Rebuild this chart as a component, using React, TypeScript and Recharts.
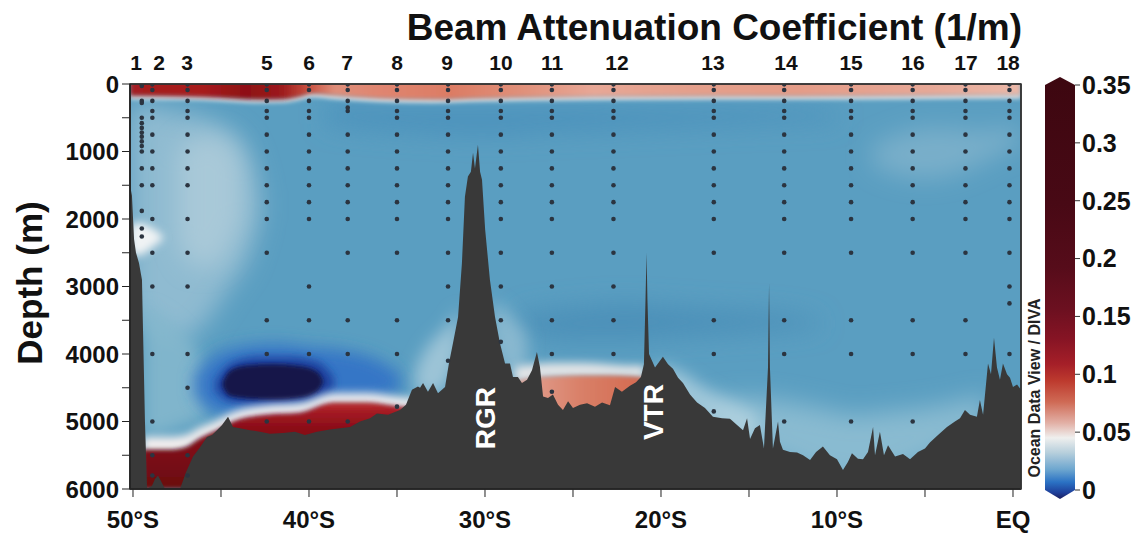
import React from "react";
import {
  ComposedChart,
  BarChart,
  Area,
  Bar,
  Scatter,
  XAxis,
  YAxis,
  ReferenceDot,
  ReferenceArea,
} from "recharts";

const FONT = '"Liberation Sans", Arial, Helvetica, sans-serif';

// axis ranges
const LAT_MIN = -50.17;
const LAT_MAX = 0.455;
const DEPTH_MAX = 6000;

const latTicks = [-50, -45, -40, -35, -30, -25, -20, -15, -10, -5, 0];
const depthTicks = [0, 500, 1000, 1500, 2000, 2500, 3000, 3500, 4000, 4500, 5000, 5500, 6000];
const colorTicks = [0, 0.05, 0.1, 0.15, 0.2, 0.25, 0.3, 0.35];

// stations: label positions on top, cast positions, sample depths
const stationNames = ["1", "2", "3", "5", "6", "7", "8", "9", "10", "11", "12", "13", "14", "15", "16", "17", "18"];
const labelLats = [-49.83, -48.52, -46.93, -42.39, -40.0, -37.84, -35.0, -32.16, -29.09, -26.19, -22.5, -17.05, -12.9, -9.2, -5.68, -2.67, -0.28];
const stationLats = [-49.5, -48.9, -46.9, -42.4, -40.0, -37.8, -35.0, -32.1, -29.1, -26.2, -22.7, -17.0, -13.0, -9.2, -5.7, -2.7, -0.2];
const stationDepths: number[][] = [
  [5, 30, 250, 280, 500, 580, 650, 720, 780, 850, 920, 1000, 1250, 1500, 1880, 2140, 2260],
  [5, 90, 250, 400, 500, 750, 1000, 1250, 1500, 2000, 2500, 3000, 4000, 5000, 5500, 5800],
  [5, 90, 250, 400, 500, 750, 1000, 1250, 1500, 2000, 2500, 3000, 4000, 4500, 5500, 5800],
  [5, 90, 250, 400, 500, 750, 1000, 1250, 1500, 1750, 2000, 2500, 3500, 4000, 5000],
  [5, 90, 250, 400, 500, 750, 1000, 1250, 1500, 1750, 2000, 3000, 3500, 4000, 5000],
  [5, 90, 250, 350, 400, 750, 1000, 1250, 1500, 1750, 2000, 2500, 3500, 4000, 5000],
  [5, 90, 250, 400, 500, 750, 1000, 1250, 1500, 1750, 2000, 2500, 3500, 4000, 4780],
  [5, 90, 250, 400, 500, 750, 1000, 1250, 1500, 1750, 2000, 2500, 3000, 3500, 4100],
  [5, 90, 250, 400, 500, 750, 1000, 1250, 1500, 1750, 2000, 2500, 3000, 3500, 3820],
  [5, 90, 250, 400, 500, 750, 1000, 1250, 1500, 1750, 2000, 2500, 3000, 3500, 4000, 4560],
  [5, 90, 250, 400, 500, 750, 1000, 1250, 1500, 1750, 2000, 2500, 3000, 3500, 4000],
  [5, 90, 250, 400, 500, 750, 1000, 1250, 1500, 1750, 2000, 2500, 3500, 4000, 4850],
  [5, 90, 250, 400, 500, 750, 1000, 1250, 1500, 1750, 2000, 2500, 3500, 4000, 5000],
  [5, 90, 250, 400, 500, 750, 1000, 1250, 1500, 1750, 2000, 2500, 3500, 4000, 5000],
  [5, 90, 250, 400, 500, 750, 1000, 1250, 1500, 1750, 2000, 2500, 3500, 4000, 5000],
  [5, 90, 250, 400, 500, 750, 1000, 1250, 1500, 1750, 2000, 2500, 3500, 4000],
  [5, 90, 250, 400, 500, 750, 1000, 1250, 1500, 1750, 2000, 2500, 3000, 3250, 4000],
];

// seafloor profile
const bathyLat = [
  -50.17, -50.06, -49.94, -49.83, -49.66, -49.49, -49.43, -49.32, -49.2, -48.92, -48.75, -48.58, -48.41, -48.18,
  -47.33, -46.99, -46.59, -46.19, -45.8, -45.51, -45.23, -44.94, -44.6, -44.32, -43.92, -43.35, -42.78, -42.22,
  -41.48, -40.8, -40.23, -39.55, -38.81, -38.24, -37.67, -37.1, -36.53, -36.14, -35.51, -34.83, -34.49, -34.15,
  -33.81, -33.69, -33.52, -33.24, -32.95, -32.67, -32.27, -32.05, -31.82, -31.53, -31.31, -31.14, -30.97, -30.8,
  -30.68, -30.57, -30.4, -30.28, -30.17, -29.99, -29.72, -29.43, -29.15, -28.86, -28.58, -28.41, -28.13, -27.9,
  -27.61, -27.33, -27.05, -26.88, -26.7, -26.42, -26.14, -25.85, -25.57, -25.28, -25.0, -24.6, -24.2, -23.75,
  -23.35, -22.9, -22.61, -22.22, -21.76, -21.42, -21.14, -20.97, -20.88, -20.82, -20.77, -20.68, -20.51, -20.34,
  -20.06, -19.89, -19.6, -19.32, -19.03, -18.75, -18.35, -17.95, -17.5, -17.05, -16.53, -16.08, -15.68, -15.34,
  -15.11, -14.94, -14.66, -14.38, -14.15, -13.92, -13.86, -13.81, -13.64, -13.35, -13.24, -13.07, -12.67, -12.27,
  -11.93, -11.53, -11.19, -10.8, -10.4, -10.0, -9.66, -9.38, -9.15, -8.81, -8.52, -8.24, -7.95, -7.84, -7.56,
  -7.33, -7.1, -6.7, -6.25, -5.85, -5.4, -5.0, -4.72, -4.26, -3.75, -3.3, -3.01, -2.73, -2.44, -2.05, -1.88,
  -1.7, -1.42, -1.25, -1.08, -0.91, -0.74, -0.57, -0.34, -0.17, 0.0, 0.23, 0.455,
];
const bathyDepth = [
  1500, 1650, 2300, 2500, 2650, 2900, 3650, 5000, 6000, 5950, 5850, 5800, 5880, 6000,
  6000, 5750, 5520, 5380, 5230, 5200, 5130, 5050, 4930, 5080, 5100, 5130, 5150, 5180,
  5170, 5150, 5200, 5150, 5120, 5100, 5080, 5000, 4950, 4880, 4900, 4830, 4750, 4530,
  4480, 4500, 4430, 4560, 4430, 4580, 4490, 4140, 3840, 3450, 2650, 1670, 1370, 1300,
  1020, 1250, 900, 1300, 1420, 2160, 2900, 3450, 3840, 4140, 4140, 4340, 4340, 4430,
  4380, 4240, 3970, 4190, 4630, 4650, 4600, 4750, 4830, 4700, 4800, 4750, 4730, 4780,
  4720, 4760, 4490, 4560, 4470, 4420, 4340, 4150, 3200, 2500, 3200, 4000, 4100, 4200,
  4100, 4040, 4150, 4220, 4350, 4430, 4600, 4720, 4800, 4930, 4950, 4960, 5050, 5130,
  4950, 5260, 5100, 5050, 5400, 4200, 2950, 4200, 5400, 5000, 5300, 5420, 5450, 5460,
  5500, 5570, 5450, 5370, 5500, 5560, 5720, 5600, 5470, 5550, 5560, 5450, 5080, 5500, 5150,
  5500, 5350, 5520, 5480, 5560, 5450, 5400, 5310, 5200, 5080, 5000, 4950, 4830, 4900, 4930, 4680,
  4900, 4140, 4300, 3760, 4200, 4380, 4140, 4300, 4350, 4490, 4450, 4530,
];

// field patches: latitude, upper and lower depth of each shaded band
const fullLat = [LAT_MIN, LAT_MAX];
const fullTop = [0, 0];
const fullBot = [6000, 6000];

const surfLat = [-50.17, -47, -45, -43, -41.5, -40.5, -39.8, -38.5, -36, -33, -30, -26, -20, -12, -6, 0.455];
const surfTop = [-300, -300, -300, -300, -300, -300, -300, -300, -300, -300, -300, -300, -300, -300, -300, -300];
const surfBot = [175, 185, 205, 230, 225, 185, 145, 175, 215, 230, 210, 195, 185, 180, 175, 165];
const surfWhiteTop = [150, 160, 180, 205, 200, 160, 120, 150, 190, 205, 185, 170, 160, 155, 150, 140];
const surfWhiteBot = [225, 235, 255, 280, 275, 235, 195, 225, 265, 280, 260, 245, 235, 230, 225, 215];

const upperDarkLat = [-39, -35, -30, -25, -20, -15, -10];
const upperDarkTop = [300, 320, 330, 330, 350, 350, 400];
const upperDarkBot = [600, 700, 750, 700, 650, 600, 550];

const midDarkLat = [-28, -25, -22, -19, -16, -13, -11];
const midDarkTop = [3400, 3300, 3250, 3300, 3350, 3400, 3500];
const midDarkBot = [3700, 3800, 3800, 3750, 3700, 3650, 3600];

const paleLeftLat = [-50.17, -49.5, -48.5, -47.5, -46.5, -45.5, -44.5, -43.5, -42.8];
const paleLeftTop = [350, 300, 350, 400, 450, 550, 700, 1000, 1600];
const paleLeftBot = [3300, 3500, 3700, 3800, 3700, 3400, 3000, 2600, 2000];

const paleCoreLat = [-47.5, -46.5, -45.5, -44.5, -43.8];
const paleCoreTop = [1000, 800, 750, 850, 1200];
const paleCoreBot = [2300, 2700, 2700, 2400, 2000];

const lowLeftLat = [-49.4, -48.5, -47.5, -46.5, -45.8];
const lowLeftTop = [3300, 3400, 3600, 3900, 4300];
const lowLeftBot = [5200, 5200, 5100, 5000, 4900];

const st1WhiteLat = [-50.17, -49.8, -49.3, -48.8, -48.3];
const st1WhiteTop = [2100, 2050, 2080, 2150, 2250];
const st1WhiteBot = [2450, 2550, 2500, 2400, 2300];

const paleNELat = [-8, -6.5, -5, -3.5, -2, -0.5, 0.455];
const paleNETop = [900, 750, 650, 650, 700, 650, 700];
const paleNEBot = [1200, 1350, 1400, 1350, 1200, 1000, 900];

const paleSELat = [-17, -15, -13, -11, -9, -7, -5, -3, -1.5];
const paleSETop = [4700, 4650, 4700, 4800, 4900, 4850, 4800, 4700, 4600];
const paleSEBot = [5200, 5400, 5600, 5800, 5900, 5800, 5600, 5300, 5000];

const slopeLat = [-20.3, -19, -17.5, -16, -14.5];
const slopeTop = [4150, 4250, 4500, 4700, 4900];
const slopeBot = [4500, 4700, 5000, 5200, 5300];

const rgrWestLat = [-34, -33.3, -32.6, -31.9, -31.5];
const rgrWestTop = [4250, 3900, 3700, 3500, 3300];
const rgrWestBot = [4600, 4600, 4600, 4300, 4000];

const rgrEastLat = [-29.6, -29, -28.3, -27.6];
const rgrEastTop = [3200, 3300, 3500, 3700];
const rgrEastBot = [3900, 4200, 4400, 4400];

const haloLat = [-46.5, -45.5, -44, -42, -40, -38, -36, -34.8];
const haloTop = [4300, 4050, 3900, 3850, 3900, 3950, 4100, 4300];
const haloBot = [4600, 4850, 4900, 4850, 4780, 4700, 4650, 4550];

const ringLat = [-45.3, -44.5, -43, -41, -39.5, -38.6];
const ringTop = [4400, 4150, 4050, 4050, 4120, 4350];
const ringBot = [4550, 4700, 4750, 4720, 4650, 4500];

const coreLat = [-44.9, -44.5, -43.5, -42, -40.5, -39.5, -39.2];
const coreTop = [4420, 4250, 4170, 4150, 4180, 4270, 4400];
const coreBot = [4480, 4620, 4660, 4680, 4650, 4550, 4420];

const botLat = [-49.45, -48, -47, -46.2, -45.2, -44.3, -42.4, -40.5, -38.6, -36.7, -34.8, -33.8];
const botWhiteTop = [5230, 5230, 5200, 5090, 4980, 4860, 4760, 4730, 4580, 4580, 4640, 4660];
const botWhiteBot = [5460, 5460, 5420, 5290, 5170, 5040, 4940, 4910, 4760, 4760, 4820, 4840];
const botRedTop = [5420, 5420, 5380, 5250, 5130, 5000, 4900, 4870, 4720, 4720, 4780, 4800];
const botRedBot = [6000, 6000, 6000, 6000, 6000, 6000, 6000, 6000, 6000, 6000, 6000, 6000];

const vtrLat = [-28.3, -27.2, -26, -24.5, -23, -21.8, -20.9];
const vtrWhiteTop = [4200, 4150, 4130, 4130, 4150, 4170, 4170];
const vtrWhiteBot = [4420, 4380, 4360, 4350, 4350, 4360, 4380];
const vtrRedTop = [4400, 4350, 4330, 4320, 4320, 4330, 4350];
const vtrRedBot = [5000, 5000, 5000, 5000, 5000, 5000, 5000];

const colorbarData = [{ name: "c", v: 0.35 }];

type Row = { lat: number; top: number; bot: number };

const rows = (lat: number[], top: number[], bot: number[]): Row[] =>
  lat.map((l, i) => ({ lat: l, top: top[i], bot: bot[i] }));

const bathyRows = bathyLat.map((lat, i) => ({ lat, depth: bathyDepth[i] }));
const stationPoints = stationLats.flatMap((lat, i) =>
  stationDepths[i].map((depth) => ({ lat, depth }))
);
// invisible anchor points so the frame axes of the overlay chart get drawn
const labelRows = labelLats.map((lat) => ({ lat, depth: 0 }));

function fieldArea(id: string, data: Row[], fill: string, blur: string, opacity = 1) {
  return (
    <Area
      key={id}
      data={data}
      dataKey={(d: Row) => [d.top, d.bot]}
      type="monotone"
      fill={fill}
      fillOpacity={opacity}
      stroke="none"
      className={blur}
      dot={false}
      activeDot={false}
      isAnimationActive={false}
    />
  );
}

const fmtLat = (v: number) => {
  if (v === 0) return "EQ";
  if (Math.round(v) % 10 !== 0) return "";
  return `${Math.abs(v)}°S`;
};
const fmtDepth = (v: number) => (v % 1000 === 0 ? String(v) : "");
const fmtColor = (v: number) => String(+v.toFixed(2));

const tickText = { fill: "#111", fontSize: 24, fontWeight: 700, fontFamily: FONT };
const MARGIN = { top: 54, right: 118, bottom: 10, left: 0 };

function StationTick(props: any) {
  const { x, y, index } = props;
  return (
    <text x={x} y={y} textAnchor="middle" fill="#111" fontSize={21} fontWeight={700} fontFamily={FONT}>
      {stationNames[index]}
    </text>
  );
}

function ColorbarShape(props: any) {
  const { x, y, width, height } = props;
  const m = x + width / 2;
  const pts = [
    [x, y],
    [m, y - 8],
    [x + width, y],
    [x + width, y + height],
    [m, y + height + 9],
    [x, y + height],
  ]
    .map((p) => p.join(","))
    .join(" ");
  return <polygon points={pts} fill="url(#cbGrad)" />;
}

const blurCss = `
.b2 .recharts-area-area { filter: url(#blur2); }
.b4 .recharts-area-area { filter: url(#blur4); }
.b8 .recharts-area-area { filter: url(#blur8); }
.b12 .recharts-area-area { filter: url(#blur12); }
`;

export default function App() {
  return (
    <div
      style={{
        position: "absolute",
        left: 0,
        top: 0,
        width: 1140,
        height: 539,
        background: "#fff",
        fontFamily: FONT,
      }}
    >
      <style>{blurCss}</style>
      <svg width={0} height={0} style={{ position: "absolute" }}>
        <defs>
          {[2, 4, 8, 12].map((s) => (
            <filter
              key={s}
              id={`blur${s}`}
              filterUnits="userSpaceOnUse"
              x={-100}
              y={-100}
              width={1400}
              height={800}
            >
              <feGaussianBlur stdDeviation={s} />
            </filter>
          ))}
          <linearGradient id="surfGrad" x1="0" y1="0" x2="1" y2="0">
            <stop offset="0" stopColor="#a41f20" />
            <stop offset="0.08" stopColor="#a81c1e" />
            <stop offset="0.13" stopColor="#8e1014" />
            <stop offset="0.17" stopColor="#9c1a1c" />
            <stop offset="0.2" stopColor="#c85040" />
            <stop offset="0.23" stopColor="#de8e7a" />
            <stop offset="0.28" stopColor="#e08570" />
            <stop offset="0.36" stopColor="#dc7c64" />
            <stop offset="0.44" stopColor="#e0907a" />
            <stop offset="0.52" stopColor="#e7a796" />
            <stop offset="0.62" stopColor="#e4a08c" />
            <stop offset="0.75" stopColor="#e49c88" />
            <stop offset="0.9" stopColor="#e6a897" />
            <stop offset="1" stopColor="#eab8a8" />
          </linearGradient>
          <linearGradient id="redGrad" x1="0" y1="0" x2="0" y2="1">
            <stop offset="0" stopColor="#c03530" />
            <stop offset="0.08" stopColor="#a81c26" />
            <stop offset="0.3" stopColor="#8a0e18" />
            <stop offset="1" stopColor="#6a0810" />
          </linearGradient>
          <linearGradient id="vtrGrad" x1="0" y1="0" x2="1" y2="0">
            <stop offset="0" stopColor="#e3a597" />
            <stop offset="0.5" stopColor="#d98068" />
            <stop offset="1" stopColor="#d4694f" />
          </linearGradient>
          <linearGradient id="cbGrad" x1="0" y1="0" x2="0" y2="1">
            <stop offset="0" stopColor="#3d0710" />
            <stop offset="0.3" stopColor="#480915" />
            <stop offset="0.45" stopColor="#560c1a" />
            <stop offset="0.55" stopColor="#6c1020" />
            <stop offset="0.62" stopColor="#861424" />
            <stop offset="0.68" stopColor="#a51f28" />
            <stop offset="0.72" stopColor="#bd3a2e" />
            <stop offset="0.77" stopColor="#cf6a55" />
            <stop offset="0.82" stopColor="#e2b0a6" />
            <stop offset="0.855" stopColor="#efefee" />
            <stop offset="0.89" stopColor="#b7cfdc" />
            <stop offset="0.93" stopColor="#6da6cf" />
            <stop offset="0.96" stopColor="#2b72c4" />
            <stop offset="0.985" stopColor="#1e3f9a" />
            <stop offset="1" stopColor="#1b1d5c" />
          </linearGradient>
        </defs>
      </svg>

      {/* section: field, seafloor, sample dots, bottom and left ticks */}
      <div style={{ position: "absolute", left: 0, top: 0 }}>
        <ComposedChart width={1140} height={539} margin={MARGIN}>
          <XAxis
            dataKey="lat"
            type="number"
            domain={[LAT_MIN, LAT_MAX]}
            allowDataOverflow
            ticks={latTicks}
            tickFormatter={fmtLat}
            interval={0}
            tickSize={8}
            tickMargin={14}
            height={40}
            stroke="#222"
            tick={tickText}
          />
          <XAxis xAxisId="top" dataKey="lat" orientation="top" type="number" domain={[LAT_MIN, LAT_MAX]} height={30} tick={false} tickLine={false} axisLine={false} />
          <YAxis
            type="number"
            domain={[0, DEPTH_MAX]}
            reversed
            allowDataOverflow
            ticks={depthTicks}
            tickFormatter={fmtDepth}
            interval={0}
            width={130}
            tickSize={8}
            tickMargin={3}
            stroke="#222"
            tick={tickText}
          />
          <YAxis yAxisId="r" orientation="right" type="number" domain={[0, DEPTH_MAX]} reversed width={1} tick={false} tickLine={false} axisLine={false} />

          {fieldArea("bg", rows(fullLat, fullTop, fullBot), "#5a9ec1", "", 1)}
          {fieldArea("updark", rows(upperDarkLat, upperDarkTop, upperDarkBot), "#4a91bb", "b12", 0.9)}
          {fieldArea("middark", rows(midDarkLat, midDarkTop, midDarkBot), "#4a8fb8", "b12", 0.9)}
          {fieldArea("paleL", rows(paleLeftLat, paleLeftTop, paleLeftBot), "#98c0d3", "b12", 0.85)}
          {fieldArea("paleC", rows(paleCoreLat, paleCoreTop, paleCoreBot), "#b4cfdc", "b12", 0.7)}
          {fieldArea("lowL", rows(lowLeftLat, lowLeftTop, lowLeftBot), "#86b8ce", "b8", 0.85)}
          {fieldArea("st1", rows(st1WhiteLat, st1WhiteTop, st1WhiteBot), "#f0f3f4", "b4", 1)}
          {fieldArea("paleNE", rows(paleNELat, paleNETop, paleNEBot), "#9fc4d5", "b12", 0.45)}
          {fieldArea("paleSE", rows(paleSELat, paleSETop, paleSEBot), "#92bfd3", "b12", 0.85)}
          {fieldArea("slope", rows(slopeLat, slopeTop, slopeBot), "#b8d5e1", "b8", 0.75)}
          {fieldArea("rgrW", rows(rgrWestLat, rgrWestTop, rgrWestBot), "#b9d4df", "b8", 0.7)}
          {fieldArea("rgrE", rows(rgrEastLat, rgrEastTop, rgrEastBot), "#9cc3d5", "b8", 0.7)}
          {fieldArea("halo", rows(haloLat, haloTop, haloBot), "#3474c6", "b8", 0.95)}
          {fieldArea("ring", rows(ringLat, ringTop, ringBot), "#1f3f9c", "b4", 1)}
          {fieldArea("core", rows(coreLat, coreTop, coreBot), "#141848", "b2", 1)}
          {fieldArea("botW", rows(botLat, botWhiteTop, botWhiteBot), "#f6efee", "b4", 1)}
          {fieldArea("botR", rows(botLat, botRedTop, botRedBot), "url(#redGrad)", "b2", 1)}
          {fieldArea("vtrW", rows(vtrLat, vtrWhiteTop, vtrWhiteBot), "#f2ecea", "b4", 0.9)}
          {fieldArea("vtrR", rows(vtrLat, vtrRedTop, vtrRedBot), "url(#vtrGrad)", "b2", 1)}
          {fieldArea("surfW", rows(surfLat, surfWhiteTop, surfWhiteBot), "#f3f1f0", "b2", 0.8)}
          {fieldArea("surf", rows(surfLat, surfTop, surfBot), "url(#surfGrad)", "b2", 1)}

          <Area
            data={bathyRows}
            dataKey="depth"
            baseValue="dataMax"
            type="linear"
            fill="#393939"
            fillOpacity={1}
            stroke="none"
            dot={false}
            activeDot={false}
            isAnimationActive={false}
          />
          <Scatter
            data={stationPoints}
            dataKey="depth"
            isAnimationActive={false}
            shape={(p: any) => <circle cx={p.cx} cy={p.cy} r={2.3} fill="#2b3440" />}
          />
          <Scatter xAxisId="top" yAxisId="r" data={labelRows} dataKey="depth" isAnimationActive={false} shape={() => <g />} />
          <ReferenceDot
            x={-30.0}
            y={4950}
            r={0}
            fill="none"
            stroke="none"
            label={{ value: "RGR", angle: -90, position: "center", fill: "#fff", fontSize: 28, fontWeight: 700, fontFamily: FONT }}
          />
          <ReferenceDot
            x={-20.45}
            y={4860}
            r={0}
            fill="none"
            stroke="none"
            label={{ value: "VTR", angle: -90, position: "center", fill: "#fff", fontSize: 28, fontWeight: 700, fontFamily: FONT }}
          />
        </ComposedChart>
      </div>

      {/* frame: axis lines, plot border and station numbers, drawn over the field */}
      <div style={{ position: "absolute", left: 0, top: 0, pointerEvents: "none" }}>
        <ComposedChart width={1140} height={539} margin={MARGIN}>
          <XAxis dataKey="lat" type="number" domain={[LAT_MIN, LAT_MAX]} height={40} tick={false} tickLine={false} stroke="#222" strokeWidth={1.5} />
          <XAxis
            xAxisId="top"
            dataKey="lat"
            orientation="top"
            type="number"
            domain={[LAT_MIN, LAT_MAX]}
            ticks={labelLats}
            interval={0}
            tickLine={false}
            tickSize={0}
            tickMargin={14}
            height={30}
            stroke="#333"
            strokeWidth={1.5}
            tick={StationTick}
          />
          <YAxis type="number" domain={[0, DEPTH_MAX]} reversed width={130} tick={false} tickLine={false} stroke="#222" strokeWidth={1.5} />
          <YAxis yAxisId="r" orientation="right" type="number" domain={[0, DEPTH_MAX]} reversed width={1} tick={false} tickLine={false} stroke="#333" strokeWidth={1.5} />
          <Scatter data={labelRows} dataKey="depth" isAnimationActive={false} shape={() => <g />} />
          <Scatter xAxisId="top" yAxisId="r" data={labelRows} dataKey="depth" isAnimationActive={false} shape={() => <g />} />
          <ReferenceArea
            x1={LAT_MIN}
            x2={LAT_MAX}
            y1={0}
            y2={DEPTH_MAX}
            fill="none"
            fillOpacity={0}
            stroke="#333"
            strokeWidth={1.5}
            ifOverflow="visible"
          />
        </ComposedChart>
      </div>

      <div style={{ position: "absolute", left: 1000, top: 60 }}>
        <BarChart
          width={140}
          height={460}
          data={colorbarData}
          margin={{ top: 25, right: 5, bottom: 30, left: 45 }}
          barCategoryGap={0}
        >
          <XAxis dataKey="name" hide />
          <YAxis
            orientation="right"
            type="number"
            domain={[0, 0.35]}
            ticks={colorTicks}
            tickFormatter={fmtColor}
            interval={0}
            width={60}
            axisLine={false}
            tickSize={5}
            tickMargin={2}
            stroke="#333"
            tick={{ ...tickText, fontSize: 25 }}
          />
          <Bar dataKey="v" shape={ColorbarShape} isAnimationActive={false} />
        </BarChart>
      </div>

      <svg width={1140} height={539} style={{ position: "absolute", left: 0, top: 0, pointerEvents: "none" }}>
        <text x={1022} y={40} textAnchor="end" fontSize={37} fontWeight={700} fill="#111" fontFamily={FONT}>
          Beam Attenuation Coefficient (1/m)
        </text>
        <text
          x={42}
          y={283}
          transform="rotate(-90 42 283)"
          textAnchor="middle"
          fontSize={35}
          fontWeight={700}
          fill="#111"
          fontFamily={FONT}
        >
          Depth (m)
        </text>
        <text
          x={1040}
          y={388}
          transform="rotate(-90 1040 388)"
          textAnchor="middle"
          fontSize={16}
          fontWeight={700}
          fill="#222"
          fontFamily={FONT}
        >
          Ocean Data View / DIVA
        </text>
      </svg>
    </div>
  );
}
